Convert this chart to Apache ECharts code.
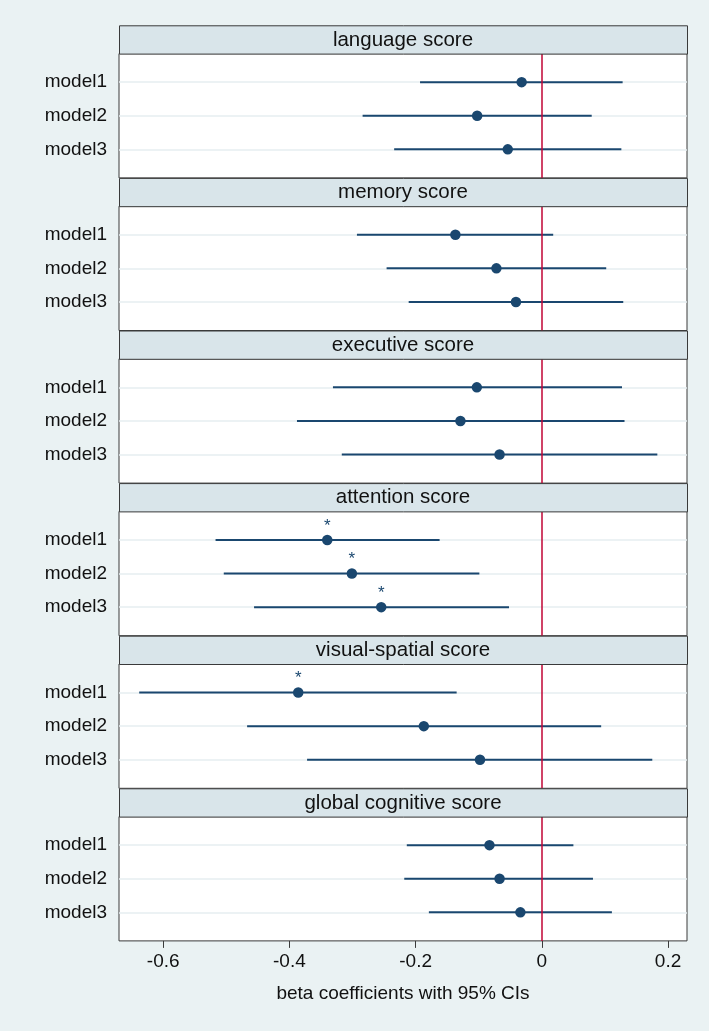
<!DOCTYPE html>
<html>
<head>
<meta charset="utf-8">
<script src="https://cdn.jsdelivr.net/npm/echarts@6/dist/echarts.min.js"></script>
<style>
html,body{margin:0;padding:0;background:#EAF2F3;}
#chart{width:709px;height:1031px;}
</style>
</head>
<body>
<div id="chart"></div>
<script>
const panels = ['language score','memory score','executive score','attention score','visual-spatial score','global cognitive score'];
const models = ['model1','model2','model3'];
const est = [[-0.032,-0.1025,-0.054],[-0.137,-0.072,-0.041],[-0.103,-0.129,-0.067],[-0.340,-0.301,-0.2545],[-0.386,-0.187,-0.098],[-0.083,-0.067,-0.034]];
const lo  = [[-0.193,-0.284,-0.234],[-0.293,-0.246,-0.211],[-0.331,-0.388,-0.317],[-0.517,-0.504,-0.456],[-0.638,-0.467,-0.372],[-0.214,-0.218,-0.179]];
const hi  = [[0.128,0.079,0.126],[0.018,0.102,0.129],[0.127,0.131,0.183],[-0.162,-0.099,-0.052],[-0.135,0.094,0.175],[0.050,0.081,0.111]];
const sig = [[0,0,0],[0,0,0],[0,0,0],[1,1,1],[1,0,0],[0,0,0]];
const xTicks = [-0.6,-0.4,-0.2,0,0.2];
const xTitle = 'beta coefficients with 95% CIs';

const NAVY = '#1A476F', RED = '#C10534', FONT = 'Liberation Sans, Arial, Helvetica, sans-serif';
const LEFT = 119, RIGHT = 22, TOP0 = 25.3, STEP = 152.6, HEAD = 28.3, PANEL = 124.3, W = 709 - LEFT - RIGHT;

const grids = [], xAxes = [], yAxes = [], series = [], graphics = [];
panels.forEach((name, i) => {
  const top = TOP0 + STEP * i;
  const last = i === panels.length - 1;
  grids.push({left: LEFT, right: RIGHT, top: top + HEAD, height: PANEL, show: true,
    backgroundColor: '#FFFFFF', borderColor: '#3A3A3A', borderWidth: 1, containLabel: false});
  xAxes.push({type: 'value', gridIndex: i, min: -0.67, max: 0.23, show: last,
    axisLine: {show: false}, splitLine: {show: false},
    axisTick: {show: true, length: 7, lineStyle: {color: '#3A3A3A'}, customValues: xTicks},
    axisLabel: {show: true, customValues: xTicks, fontSize: 19, fontFamily: FONT, color: '#111', margin: 11},
    name: last ? xTitle : '', nameLocation: 'middle', nameGap: 43,
    nameTextStyle: {fontSize: 19, fontFamily: FONT, color: '#111'}});
  yAxes.push({type: 'value', gridIndex: i, min: 0.15, max: 3.85, inverse: true,
    axisLine: {show: false}, axisTick: {show: false}, splitLine: {show: false},
    axisLabel: {show: true, customValues: [1, 2, 3], formatter: v => models[Math.round(v) - 1],
      fontSize: 19, fontFamily: FONT, color: '#111', margin: 12}});
  // header band
  graphics.push({type: 'rect', left: LEFT, top: top, z: 10,
    shape: {width: W, height: HEAD},
    style: {fill: '#D9E5EA', stroke: '#3A3A3A', lineWidth: 1}});
  graphics.push({type: 'text', x: LEFT + W / 2, y: top + HEAD / 2 + 0.5, z: 11,
    style: {text: name, fill: '#111', font: '20.5px ' + FONT, textAlign: 'center', textVerticalAlign: 'middle'}});

  // row grid lines
  series.push({type: 'line', xAxisIndex: i, yAxisIndex: i, data: [], silent: true, z: 1,
    markLine: {z: 1, silent: true, symbol: 'none', label: {show: false},
      lineStyle: {color: '#E6EEF0', width: 1.5, type: 'solid'},
      data: models.map((m, k) => ({yAxis: k + 1}))}});
  // CI lines
  const ci = models.map((m, k) => [lo[i][k], hi[i][k], k + 1]);
  series.push({type: 'custom', xAxisIndex: i, yAxisIndex: i, z: 2, data: ci,
    renderItem: (params, api) => {
      const a = api.coord([api.value(0), api.value(2)]);
      const b = api.coord([api.value(1), api.value(2)]);
      return {type: 'line', shape: {x1: a[0], y1: a[1], x2: b[0], y2: b[1]},
        style: {stroke: NAVY, lineWidth: 2}};
    }});
  // zero reference line
  series.push({type: 'line', xAxisIndex: i, yAxisIndex: i, data: [], silent: true, z: 3,
    markLine: {z: 3, silent: true, symbol: 'none', label: {show: false},
      lineStyle: {color: RED, width: 1.5, type: 'solid'}, data: [{xAxis: 0}]}});
  // point estimates
  series.push({type: 'scatter', xAxisIndex: i, yAxisIndex: i, z: 4, symbolSize: 10.5,
    itemStyle: {color: NAVY, opacity: 1},
    data: models.map((m, k) => ({value: [est[i][k], k + 1],
      label: {show: !!sig[i][k], formatter: '*', position: 'top', distance: 0,
        fontSize: 17, fontFamily: FONT, color: NAVY}}))});
});

const chart = echarts.init(document.getElementById('chart'), null, {renderer: 'canvas'});
chart.setOption({
  backgroundColor: '#EAF2F3',
  animation: false,
  grid: grids, xAxis: xAxes, yAxis: yAxes, series: series, graphic: graphics
});
</script>
</body>
</html>
